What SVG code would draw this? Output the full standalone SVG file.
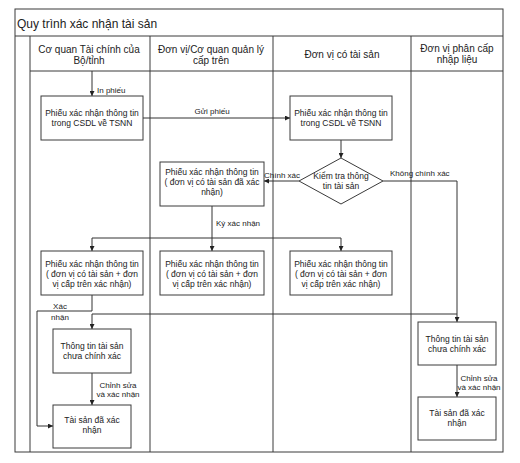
<svg xmlns="http://www.w3.org/2000/svg" width="520" height="463" viewBox="0 0 520 463">
<style>
  .frame { fill: none; stroke: #3a3a3a; stroke-width: 1; }
  .box { fill: #ffffff; stroke: #3a3a3a; stroke-width: 1; }
  .conn { fill: none; stroke: #333; stroke-width: 1; }
  text { font-family: "Liberation Sans", Arial, sans-serif; fill: #222; }
  .title { font-size: 12px; }
  .hdr { font-size: 10px; text-anchor: middle; }
  .bt { font-size: 8.5px; text-anchor: middle; }
  .lbl { font-size: 8px; }
  .lblc { font-size: 8px; text-anchor: middle; }
</style>
<defs>
  <marker id="arr" viewBox="0 0 6 6" refX="6" refY="3" markerWidth="5" markerHeight="5" markerUnits="userSpaceOnUse" orient="auto">
    <path d="M0,0 L6,3 L0,6 z" fill="#222"/>
  </marker>
</defs>
<rect width="520" height="463" fill="#ffffff"/>

<g id="pool">
  <rect class="frame" x="15" y="9" width="488" height="443"/>
  <line class="frame" x1="15" y1="36" x2="503" y2="36"/>
  <line class="frame" x1="30" y1="71" x2="503" y2="71"/>
  <line class="frame" x1="30" y1="36" x2="30" y2="452"/>
  <line class="frame" x1="150" y1="36" x2="150" y2="452"/>
  <line class="frame" x1="273" y1="36" x2="273" y2="452"/>
  <line class="frame" x1="411" y1="36" x2="411" y2="452"/>
  <text class="title" x="17" y="28">Quy trình xác nhận tài sản</text>
  <text class="hdr" x="89" y="53">Cơ quan Tài chính của</text>
  <text class="hdr" x="89" y="64">Bộ/tỉnh</text>
  <text class="hdr" x="211" y="53">Đơn vị/Cơ quan quản lý</text>
  <text class="hdr" x="211" y="64">cấp trên</text>
  <text class="hdr" x="342" y="58">Đơn vị có tài sản</text>
  <text class="hdr" x="457" y="52">Đơn vị phân cấp</text>
  <text class="hdr" x="457" y="63">nhập liệu</text>
</g>

<g id="connectors">
  <path class="conn" d="M92,71 V96" marker-end="url(#arr)"/>
  <path class="conn" d="M143,118 H290" marker-end="url(#arr)"/>
  <path class="conn" d="M341,140 V158" marker-end="url(#arr)"/>
  <path class="conn" d="M299,181 H264" marker-end="url(#arr)"/>
  <path class="conn" d="M383,181 H457 V322" marker-end="url(#arr)"/>
  <path class="conn" d="M457,314 H92 V329" marker-end="url(#arr)"/>
  <path class="conn" d="M212,206 V251" marker-end="url(#arr)"/>
  <path class="conn" d="M212,238 H92 V251" marker-end="url(#arr)"/>
  <path class="conn" d="M212,238 H341 V251" marker-end="url(#arr)"/>
  <path class="conn" d="M92,295 V311 H37 V426 H53" marker-end="url(#arr)"/>
  <path class="conn" d="M92,373 V405" marker-end="url(#arr)"/>
  <path class="conn" d="M457,365 V397" marker-end="url(#arr)"/>
  <text class="lbl" x="97" y="93">In phiếu</text>
  <text class="lblc" x="212" y="114">Gửi phiếu</text>
  <text class="lbl" x="264" y="178">Chính xác</text>
  <text class="lbl" x="390" y="176">Không chính xác</text>
  <text class="lbl" x="216" y="226">Ký xác nhận</text>
  <text class="lblc" x="60" y="309">Xác</text>
  <text class="lblc" x="60" y="320">nhận</text>
  <text class="lblc" x="118" y="388">Chỉnh sửa</text>
  <text class="lblc" x="118" y="397">và xác nhận</text>
  <text class="lblc" x="479" y="381">Chỉnh sửa</text>
  <text class="lblc" x="479" y="390">và xác nhận</text>
</g>

<g id="n1">
  <rect class="box" x="41" y="96" width="102" height="44"/>
  <text class="bt" x="92" y="116">Phiếu xác nhận thông tin</text>
  <text class="bt" x="92" y="126">trong CSDL về TSNN</text>
</g>
<g id="n2">
  <rect class="box" x="290" y="96" width="102" height="44"/>
  <text class="bt" x="341" y="116">Phiếu xác nhận thông tin</text>
  <text class="bt" x="341" y="126">trong CSDL về TSNN</text>
</g>
<g id="n3">
  <polygon class="box" points="341,158 383,181 341,204 299,181"/>
  <text class="bt" x="341" y="179">Kiểm tra thông</text>
  <text class="bt" x="341" y="189">tin tài sản</text>
</g>
<g id="n4">
  <rect class="box" x="160" y="162" width="104" height="44"/>
  <text class="bt" x="212" y="175">Phiếu xác nhận thông tin</text>
  <text class="bt" x="212" y="185">( đơn vị có tài sản đã xác</text>
  <text class="bt" x="212" y="195">nhận)</text>
</g>
<g id="n5">
  <rect class="box" x="160" y="251" width="104" height="44"/>
  <text class="bt" x="212" y="267">Phiếu xác nhận thông tin</text>
  <text class="bt" x="212" y="277">( đơn vị có tài sản + đơn</text>
  <text class="bt" x="212" y="287">vị cấp trên xác nhận)</text>
</g>
<g id="n6">
  <rect class="box" x="41" y="251" width="102" height="44"/>
  <text class="bt" x="92" y="267">Phiếu xác nhận thông tin</text>
  <text class="bt" x="92" y="277">( đơn vị có tài sản + đơn</text>
  <text class="bt" x="92" y="287">vị cấp trên xác nhận)</text>
</g>
<g id="n7">
  <rect class="box" x="290" y="251" width="102" height="44"/>
  <text class="bt" x="341" y="267">Phiếu xác nhận thông tin</text>
  <text class="bt" x="341" y="277">( đơn vị có tài sản + đơn</text>
  <text class="bt" x="341" y="287">vị cấp trên xác nhận)</text>
</g>
<g id="n8">
  <rect class="box" x="53" y="329" width="78" height="44"/>
  <text class="bt" x="92" y="349">Thông tin tài sản</text>
  <text class="bt" x="92" y="359">chưa chính xác</text>
</g>
<g id="n9">
  <rect class="box" x="53" y="405" width="78" height="43"/>
  <text class="bt" x="92" y="423">Tài sản đã xác</text>
  <text class="bt" x="92" y="433">nhận</text>
</g>
<g id="n10">
  <rect class="box" x="418" y="322" width="78" height="43"/>
  <text class="bt" x="457" y="342">Thông tin tài sản</text>
  <text class="bt" x="457" y="352">chưa chính xác</text>
</g>
<g id="n11">
  <rect class="box" x="418" y="397" width="78" height="43"/>
  <text class="bt" x="457" y="416">Tài sản đã xác</text>
  <text class="bt" x="457" y="426">nhận</text>
</g>
</svg>
